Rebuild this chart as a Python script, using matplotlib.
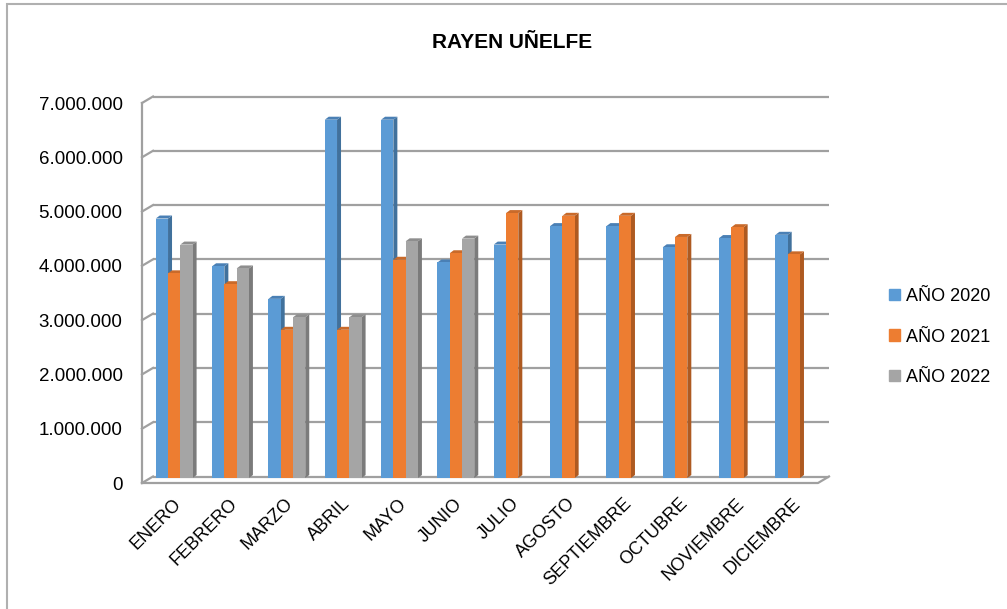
import numpy as np
import matplotlib
matplotlib.use("Agg")
import matplotlib.pyplot as plt
from matplotlib.patches import Polygon, Rectangle

plt.rcParams['font.family'] = ['Liberation Sans', 'DejaVu Sans']

meses = ["ENERO", "FEBRERO", "MARZO", "ABRIL", "MAYO", "JUNIO", "JULIO",
         "AGOSTO", "SEPTIEMBRE", "OCTUBRE", "NOVIEMBRE", "DICIEMBRE"]
anio_2020 = [4780000, 3900000, 3300000, 6600000, 6600000, 3970000, 4300000,
             4640000, 4640000, 4250000, 4420000, 4480000]
anio_2021 = [3770000, 3570000, 2730000, 2730000, 4020000, 4140000, 4880000,
             4830000, 4830000, 4440000, 4620000, 4120000]
anio_2022 = [4300000, 3860000, 2960000, 2960000, 4360000, 4410000, None,
             None, None, None, None, None]
series = ["AÑO 2020", "AÑO 2021", "AÑO 2022"]
yticks = [0, 1000000, 2000000, 3000000, 4000000, 5000000, 6000000, 7000000]

# front, side, top colours
colores = [("#5B9BD5", "#41719C", "#4A80B5"),
           ("#ED7D31", "#AE5A21", "#C96A2A"),
           ("#A5A5A5", "#7B7B7B", "#8E8E8E")]

fig = plt.figure(figsize=(10.07, 6.09), dpi=100)
ax = fig.add_axes([142/1007, 126/609, 676/1007, 380/609])
xmin, xmax = -0.5, 11.5
ymax = 7000000
ax.set_xlim(xmin, xmax)
ax.set_ylim(0, ymax)

# pixel -> data units
px_x = (xmax - xmin) / 676
px_y = ymax / 380
DX, DY = 11 * px_x, 6.5 * px_y      # depth of the box
ox, oy = 4 * px_x, 5 * px_y         # bar position inside the box
sx, sy = 4 * px_x, 3 * px_y         # bar depth
w = 0.218
grid_c = "#A0A0A0"

# back wall gridlines + side wall
for v in yticks:
    ax.plot([xmin + DX, xmax + DX], [v + DY, v + DY], color=grid_c, lw=1.6,
            clip_on=False, zorder=1, solid_capstyle='butt')
    ax.plot([xmin, xmin + DX], [v, v + DY], color=grid_c, lw=1.6,
            clip_on=False, zorder=1)
ax.plot([xmin, xmin], [0, ymax], color=grid_c, lw=1.6, clip_on=False, zorder=1)
# floor
ax.plot([xmin, xmax, xmax + DX], [0, 0, DY], color=grid_c, lw=1.6,
        clip_on=False, zorder=1)

# bars
z = 3
for i in range(len(meses)):
    for k, vals in enumerate([anio_2020, anio_2021, anio_2022]):
        v = vals[i]
        if v is None:
            continue
        fc, sc, tc = colores[k]
        xl = i + (k - 1.5) * w + ox
        xr = xl + w
        top = oy + v
        ax.bar(xl, v, width=w, bottom=oy, align='edge', color=fc, zorder=z + 1)
        ax.add_patch(Polygon([(xr, oy), (xr + sx, oy + sy), (xr + sx, top + sy), (xr, top)],
                             closed=True, facecolor=sc, edgecolor='none', zorder=z))
        ax.add_patch(Polygon([(xl, top), (xr, top), (xr + sx, top + sy), (xl + sx, top + sy)],
                             closed=True, facecolor=tc, edgecolor='none', zorder=z))
        z += 2

for s in ax.spines.values():
    s.set_visible(False)
ax.set_yticks(yticks)
ax.set_yticklabels([f"{v:,.0f}".replace(",", ".") for v in yticks], fontsize=13.5)
ax.set_xticks([i + 2 * ox for i in range(len(meses))])
ax.set_xticklabels(meses, fontsize=13, rotation=45, ha='right', va='center',
                   rotation_mode='anchor')
ax.tick_params(axis='y', length=0, pad=14)
ax.tick_params(axis='x', length=0, pad=13)

fig.text(512/1007, 1 - 42/609, "RAYEN UÑELFE", ha='center', va='center',
         fontsize=15, fontweight='bold')

handles = [Rectangle((0, 0), 1, 1, color=c[0]) for c in colores]
fig.legend(handles, series, loc='center left', bbox_to_anchor=(880/1007, 1 - 337/609),
           frameon=False, fontsize=13, handlelength=0.6, handleheight=0.6,
           handletextpad=0.35, labelspacing=1.3, borderpad=0)

# chart area border
fig.add_artist(Rectangle((7/1007, -0.1), 1.2, 1 - 4/609 + 0.1, transform=fig.transFigure,
                         fill=False, edgecolor="#B0B0B0", lw=1.5))

fig.savefig("out.png", dpi=100)
